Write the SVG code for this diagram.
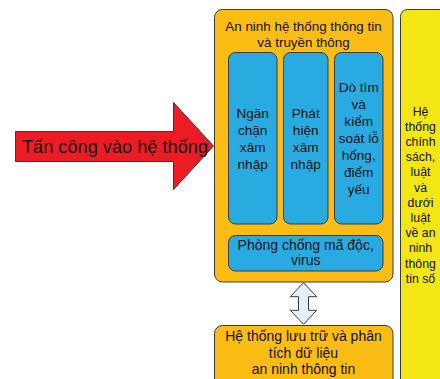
<svg xmlns="http://www.w3.org/2000/svg" width="440" height="379" viewBox="0 0 440 379">
<style>
.box{stroke:#3a3a3a;stroke-width:1}
.org{fill:#FBBC13}
.blu{fill:#29ABE2}
.yel{fill:#F2E614}
text{font-family:"Liberation Sans",Arial,sans-serif;fill:#111;text-anchor:middle}
.t13{font-size:13.4px}
.t135{font-size:13.6px}
.t14{font-size:14px}
.t12{font-size:12.3px}
</style>
<rect width="440" height="379" fill="#fff"/>
<g id="law">
<rect class="box yel" x="400.5" y="9.5" width="60" height="390" rx="7"/>
<text class="t12"><tspan x="420.5" y="115.5">Hệ</tspan><tspan x="420.5" y="130.7">thống</tspan><tspan x="420.5" y="145.9">chính</tspan><tspan x="420.5" y="161.1">sách,</tspan><tspan x="420.5" y="176.3">luật</tspan><tspan x="420.5" y="191.5">và</tspan><tspan x="420.5" y="206.7">dưới</tspan><tspan x="420.5" y="221.9">luật</tspan><tspan x="420.5" y="237.1">về an</tspan><tspan x="420.5" y="252.3">ninh</tspan><tspan x="420.5" y="267.5">thông</tspan><tspan x="420.5" y="282.7">tin số</tspan></text>
</g>
<g id="security">
<rect class="box org" x="214.5" y="9.5" width="178.5" height="272.5" rx="8"/>
<text class="t13"><tspan x="303.5" y="31">An ninh hệ thống thông tin</tspan><tspan x="303.5" y="47">và truyền thông</tspan></text>
</g>
<g id="prevent">
<rect class="box blu" x="228.5" y="52.5" width="48.5" height="171.5" rx="7"/>
<text class="t135"><tspan x="252.7" y="117.5">Ngăn</tspan><tspan x="252.7" y="134.6">chặn</tspan><tspan x="252.7" y="151.7">xâm</tspan><tspan x="252.7" y="168.8">nhập</tspan></text>
</g>
<g id="detect">
<rect class="box blu" x="283.5" y="52.5" width="44.5" height="171.5" rx="7"/>
<text class="t135"><tspan x="305.7" y="117.5">Phát</tspan><tspan x="305.7" y="134.6">hiện</tspan><tspan x="305.7" y="151.7">xâm</tspan><tspan x="305.7" y="168.8">nhập</tspan></text>
</g>
<g id="scan">
<rect class="box blu" x="334.5" y="52.5" width="48.5" height="171.5" rx="7"/>
<text class="t135"><tspan x="358.7" y="91.7">Dò tìm</tspan><tspan x="358.7" y="108.8">và</tspan><tspan x="358.7" y="125.9">kiểm</tspan><tspan x="358.7" y="143">soát lỗ</tspan><tspan x="358.7" y="160.1">hổng,</tspan><tspan x="358.7" y="177.2">điểm</tspan><tspan x="358.7" y="194.3">yếu</tspan></text>
</g>
<g id="antivirus">
<rect class="box blu" x="228.5" y="235.5" width="154.5" height="35.5" rx="7"/>
<text class="t14"><tspan x="305.7" y="249.5">Phòng chống mã độc,</tspan><tspan x="305.7" y="265.3">virus</tspan></text>
</g>
<g id="storage">
<rect class="box org" x="214.5" y="325.5" width="178.5" height="80" rx="8"/>
<text class="t14"><tspan x="303.5" y="340.7">Hệ thống lưu trữ và phân</tspan><tspan x="303.5" y="357.5">tích dữ liệu</tspan><tspan x="303.5" y="374.3">an ninh thông tin</tspan></text>
</g>
<g id="attack">
<polygon points="15.5,131.5 173.5,131.5 173.5,102.5 213.5,146 173.5,189.5 173.5,161.5 15.5,161.5" fill="#ED1C24" stroke="#3a3a3a" stroke-width="1"/>
<text style="font-size:18.2px" x="115" y="153">Tấn công vào hệ thống</text>
</g>
<g id="connectors">
<polygon points="303.5,282.7 316.7,296.7 308.5,296.7 308.5,310.3 316.7,310.3 303.5,324.3 290.3,310.3 298.5,310.3 298.5,296.7 290.3,296.7" fill="#E8EEF7" stroke="#3a3a3a" stroke-width="1"/>
</g>
</svg>
